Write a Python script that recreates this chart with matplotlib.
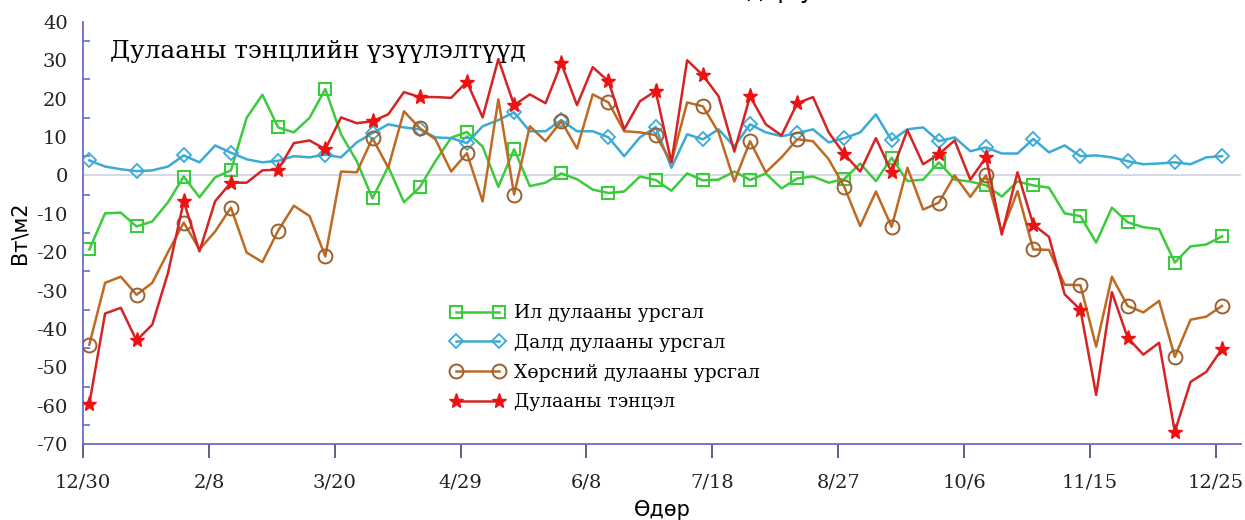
import numpy as np
import matplotlib
matplotlib.use('Agg')
import matplotlib.pyplot as plt
from matplotlib.ticker import MultipleLocator

plt.rcParams['axes.unicode_minus'] = False

# Өдрийн тэнхлэг: 12/30-аас хойш хоногоор
tick_days = [0, 40, 80, 120, 160, 200, 240, 280, 320, 360]
tick_labels = ['12/30', '2/8', '3/20', '4/29', '6/8', '7/18', '8/27', '10/6', '11/15', '12/25']
days = list(range(2, 363, 5))   # 1/1 ... 12/27, 5 хоног тутам

il = [-19.3, -9.9, -9.7, -13.3, -12.0, -7.0, -0.3, -5.7, -0.5, 1.3, 15.0, 21.0, 12.5,
      11.2, 15.0, 22.5, 10.7, 3.7, -6.0, 2.3, -7.0, -3.1, 3.7, 9.8, 11.3,
      7.5, -3.0, 6.8, -2.8, -1.9, 0.5, -1.0, -3.7, -4.6, -4.2, -0.3, -1.2,
      -4.0, 0.5, -1.3, -1.1, 1.0, -1.2, 0.5, -3.4, -0.8, -0.3, -1.9, -0.9,
      3.1, -1.5, 4.6, -1.5, -1.1, 3.4, -1.1, -1.6, -2.6, -5.5, -1.6, -2.6,
      -3.2, -9.9, -10.6, -17.5, -8.4, -12.2, -13.5, -14.0, -22.7, -18.5, -18.0, -15.9]

dald = [3.9, 2.3, 1.6, 1.1, 1.3, 2.3, 5.2, 3.4, 7.8, 5.9, 4.2, 3.4, 3.8,
        5.0, 4.7, 5.4, 4.7, 8.6, 11.0, 13.3, 12.5, 12.0, 9.9, 9.7, 8.4,
        12.8, 14.4, 16.4, 11.5, 11.5, 14.4, 11.5, 11.5, 9.9, 5.0, 9.9, 12.6,
        2.0, 10.7, 9.4, 12.0, 7.5, 13.3, 11.2, 10.2, 11.0, 12.0, 8.6, 9.7,
        11.2, 15.9, 9.1, 12.0, 12.5, 8.9, 9.9, 6.3, 7.3, 5.7, 5.7, 9.5,
        6.0, 7.8, 5.0, 5.2, 4.7, 3.7, 2.9, 3.1, 3.4, 2.9, 4.7, 5.0]

hors = [-44.1, -28.0, -26.4, -31.1, -28.0, -20.0, -12.3, -19.3, -14.6, -8.4, -20.1, -22.6, -14.4,
        -7.9, -10.6, -21.1, 1.0, 0.8, 9.7, 2.0, 16.7, 12.3, 9.4, 1.0, 5.8,
        -6.8, 19.8, -5.0, 12.8, 8.9, 14.1, 7.0, 21.1, 19.0, 11.5, 11.2, 10.5,
        3.4, 19.0, 18.0, 11.2, -1.6, 8.9, 0.8, 4.7, 9.4, 8.9, 4.2, -3.1,
        -13.2, -4.2, -13.4, 2.0, -8.9, -7.1, 0.0, -5.6, 0.0, -14.8, -4.1, -19.3,
        -19.4, -28.5, -28.6, -44.6, -26.4, -34.0, -35.7, -32.7, -47.3, -37.6, -36.8, -34.0]

tentsel = [-59.5, -36.0, -34.5, -43.0, -38.9, -25.4, -6.8, -19.8, -6.7, -1.9, -1.9, 1.3, 1.5,
           8.4, 9.1, 6.8, 15.1, 13.6, 14.1, 15.9, 21.7, 20.4, 20.4, 20.2, 24.4,
           15.1, 30.3, 18.3, 21.1, 18.8, 29.2, 18.3, 28.2, 24.5, 12.0, 19.3, 22.0,
           3.4, 30.0, 26.1, 20.6, 6.2, 20.6, 13.3, 10.4, 18.8, 20.4, 11.2, 5.5,
           1.0, 9.7, 0.8, 11.8, 2.9, 5.5, 9.1, -1.1, 4.7, -15.4, 0.8, -12.8,
           -16.0, -31.0, -35.0, -57.2, -30.4, -42.3, -46.7, -43.6, -66.8, -53.8, -51.2, -45.2]

names = ['Ил дулааны урсгал', 'Далд дулааны урсгал', 'Хөрсний дулааны урсгал', 'Дулааны тэнцэл']

serif = 'DejaVu Serif'
spine_c = '#6A6ACF'

fig = plt.figure(figsize=(12.45, 5.2), dpi=100)
ax = fig.add_axes([0.0667, 0.146, 0.93, 0.812])

ax.axhline(0, color='#D2D4E6', lw=1.3, zorder=1)

ax.plot(days, il, color='#3CCB3C', lw=1.8, marker='s', ms=9, mfc='none', mec='#3CCB3C',
        mew=1.5, markevery=3, label=names[0], zorder=3)
ax.plot(days, dald, color='#3AAAD6', lw=1.8, marker='D', ms=7, mfc='none', mec='#3AAAD6',
        mew=1.3, markevery=3, label=names[1], zorder=3)
ax.plot(days, hors, color='#BF6A22', lw=1.8, marker='o', ms=10, mfc='none', mec='#9A6030',
        mew=1.4, markevery=3, label=names[2], zorder=3)
ax.plot(days, tentsel, color='#D42424', lw=1.8, marker='*', ms=11, mfc='#EE1111', mec='#EE1111',
        markevery=3, label=names[3], zorder=4)

ax.set_xlim(0, 368)
ax.set_ylim(-70, 40)
ax.set_xticks(tick_days)
ax.set_xticklabels(tick_labels)
ax.yaxis.set_major_locator(MultipleLocator(10))
ax.set_yticks(np.arange(-65, 40, 10), minor=True)

for s in ['top', 'right']:
    ax.spines[s].set_visible(False)
for s in ['left', 'bottom']:
    ax.spines[s].set_color(spine_c)
    ax.spines[s].set_linewidth(1.3)

ax.tick_params(axis='y', which='major', length=0, pad=11, labelsize=14, labelfontfamily=serif,
               labelcolor='#222222')
ax.tick_params(axis='y', which='minor', direction='in', length=5, color=spine_c, width=1.2)
ax.tick_params(axis='x', which='major', direction='out', length=10, width=1.2, color='#44446A',
               pad=11, labelsize=14, labelfontfamily=serif, labelcolor='#222222')

ax.set_ylabel('Вт\\м2', fontsize=15, family='DejaVu Sans', labelpad=5)
ax.set_xlabel('Өдөр', fontsize=15, family='DejaVu Sans', labelpad=6)

ax.text(0.023, 0.93, 'Дулааны тэнцлийн үзүүлэлтүүд', transform=ax.transAxes,
        fontsize=17.8, family=serif, va='center', ha='left')

leg = ax.legend(loc='upper left', bbox_to_anchor=(0.3175, 0.331), frameon=False, numpoints=2,
                handlelength=2.9, handletextpad=0.5, labelspacing=0.62, borderpad=0,
                borderaxespad=0, prop={'family': serif, 'size': 13.5})

# дээд талд тасарсан бичвэр
fig.text(0.585, 1.018, 'Өдөр у', fontsize=17, family='DejaVu Sans', va='center', ha='left')

fig.savefig('out.png', dpi=100)
